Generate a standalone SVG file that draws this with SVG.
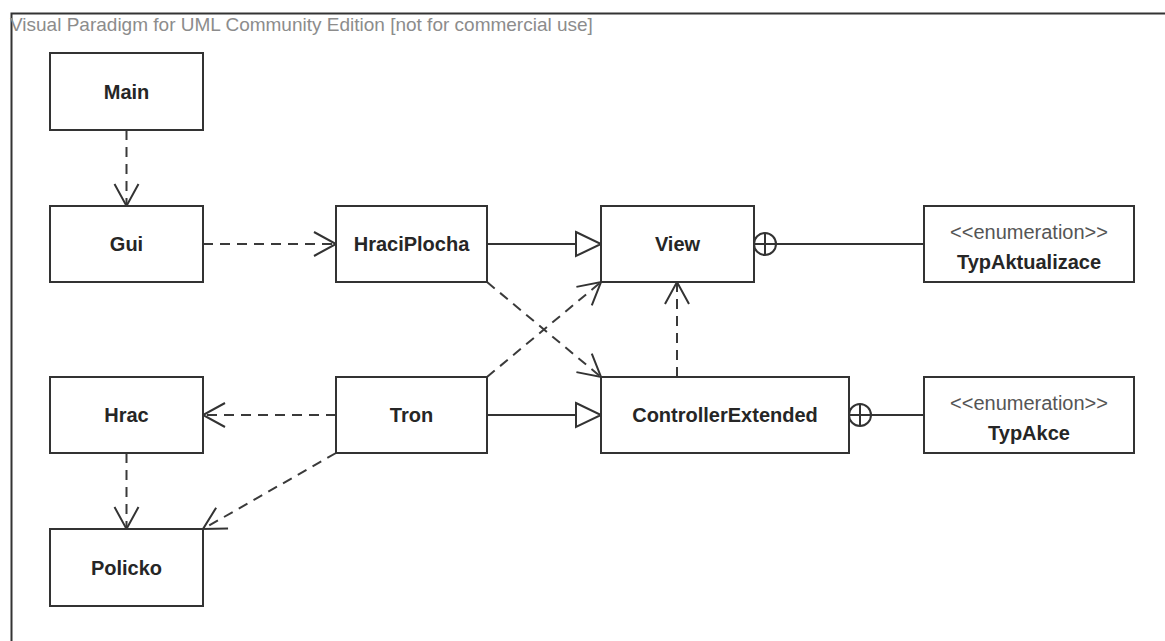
<svg xmlns="http://www.w3.org/2000/svg" width="1165" height="641" viewBox="0 0 1165 641">
  <style>
    .box{fill:#fff;stroke:#333;stroke-width:2}
    .name{font-family:"Liberation Sans",Arial,sans-serif;font-size:20px;font-weight:bold;fill:#262626;text-anchor:middle}
    .stereo{font-family:"Liberation Sans",Arial,sans-serif;font-size:20px;fill:#555;text-anchor:middle}
    .dep{fill:none;stroke:#3a3a3a;stroke-width:2;stroke-dasharray:10 7;marker-end:url(#open)}
    .gen{fill:none;stroke:#333;stroke-width:2;marker-end:url(#tri)}
    .line{fill:none;stroke:#333;stroke-width:2}
    .anchor{fill:#fff;stroke:#333;stroke-width:2}
    .title{font-family:"Liberation Sans",Arial,sans-serif;font-size:19px;fill:#8c8c8c}
  </style>
  <defs>
    <!-- open arrowhead for dependencies -->
    <marker id="open" markerUnits="userSpaceOnUse" markerWidth="30" markerHeight="30" viewBox="-27 -15 30 30" refX="0" refY="0" orient="auto" overflow="visible">
      <path d="M-22,-12 L0,0 L-22,12" fill="none" stroke="#333" stroke-width="2"/>
    </marker>
    <!-- hollow triangle for generalization -->
    <marker id="tri" markerUnits="userSpaceOnUse" markerWidth="30" markerHeight="30" viewBox="-27 -15 30 30" refX="0" refY="0" orient="auto" overflow="visible">
      <path d="M-25,-12 L0,0 L-25,12 Z" fill="#fff" stroke="#333" stroke-width="2"/>
    </marker>
  </defs>

  <!-- diagram frame -->
  <path d="M11.5,641 V13.5 H1165" class="line"/>
  <text class="title" x="10" y="31">Visual Paradigm for UML Community Edition [not for commercial use]</text>

  <g id="connectors">
    <path class="dep" d="M126.5,130 V206"/>
    <path class="dep" d="M203,244 H336"/>
    <path class="gen" d="M487,244 H601"/>
    <path class="dep" d="M487,282 L601,377"/>
    <path class="dep" d="M487,377 L601,282"/>
    <path class="dep" d="M677,377 V282"/>
    <path class="dep" d="M336,415 H203"/>
    <path class="gen" d="M487,415 H601"/>
    <path class="dep" d="M126.5,453 V529"/>
    <path class="dep" d="M336,453 L203,529"/>
    <!-- nesting: View contains TypAktualizace -->
    <path class="line" d="M754,244 H924"/>
    <circle class="anchor" cx="765" cy="244" r="11"/>
    <path class="line" d="M754,244 H776 M765,233 V255"/>
    <!-- nesting: ControllerExtended contains TypAkce -->
    <path class="line" d="M849,415 H924"/>
    <circle class="anchor" cx="860" cy="415" r="11"/>
    <path class="line" d="M849,415 H871 M860,404 V426"/>
  </g>

  <g id="Main">
    <rect class="box" x="50" y="53" width="153" height="77"/>
    <text class="name" x="126.5" y="99">Main</text>
  </g>
  <g id="Gui">
    <rect class="box" x="50" y="206" width="153" height="76"/>
    <text class="name" x="126.5" y="251">Gui</text>
  </g>
  <g id="HraciPlocha">
    <rect class="box" x="336" y="206" width="151" height="76"/>
    <text class="name" x="411.5" y="251">HraciPlocha</text>
  </g>
  <g id="View">
    <rect class="box" x="601" y="206" width="153" height="76"/>
    <text class="name" x="677.5" y="251">View</text>
  </g>
  <g id="TypAktualizace">
    <rect class="box" x="924" y="206" width="210" height="76"/>
    <text class="stereo" x="1029" y="239">&lt;&lt;enumeration&gt;&gt;</text>
    <text class="name" x="1029" y="269">TypAktualizace</text>
  </g>
  <g id="Hrac">
    <rect class="box" x="50" y="377" width="153" height="76"/>
    <text class="name" x="126.5" y="422">Hrac</text>
  </g>
  <g id="Tron">
    <rect class="box" x="336" y="377" width="151" height="76"/>
    <text class="name" x="411.5" y="422">Tron</text>
  </g>
  <g id="ControllerExtended">
    <rect class="box" x="601" y="377" width="248" height="76"/>
    <text class="name" x="725" y="422">ControllerExtended</text>
  </g>
  <g id="TypAkce">
    <rect class="box" x="924" y="377" width="210" height="76"/>
    <text class="stereo" x="1029" y="410">&lt;&lt;enumeration&gt;&gt;</text>
    <text class="name" x="1029" y="440">TypAkce</text>
  </g>
  <g id="Policko">
    <rect class="box" x="50" y="529" width="153" height="77"/>
    <text class="name" x="126.5" y="575">Policko</text>
  </g>
</svg>
